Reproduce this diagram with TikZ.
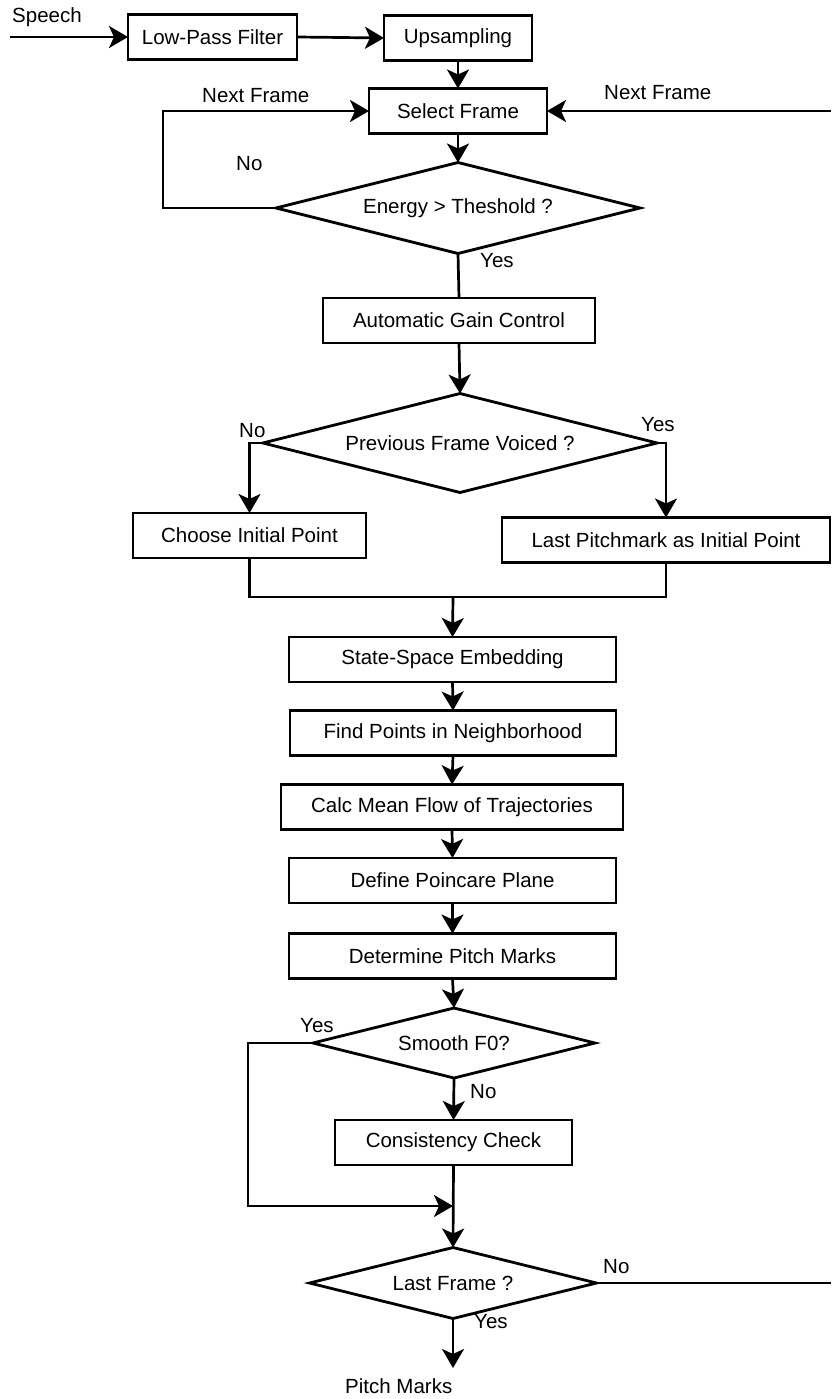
\documentclass[tikz,border=0pt]{standalone}
\usepackage{fontspec}
\setmainfont{Liberation Sans}
\usetikzlibrary{arrows.meta,shapes.geometric}
\begin{document}
\begin{tikzpicture}[x=1pt,y=-1pt,
  txt/.style={font=\fontsize{20.5pt}{24pt}\selectfont},
  stepbox/.style={txt,draw,line width=2.8pt,inner sep=0pt,outer sep=0pt,
    minimum height=45pt,minimum width=#1},
  decision/.style={txt,draw,shape=diamond,aspect=4,line width=2.8pt,
    inner sep=0pt,outer sep=0pt},
  conn/.style={line width=2.7pt},
  arr/.style={conn,-{Stealth[length=19pt,width=22pt,inset=5pt]}},
  lbl/.style={txt,anchor=base west,inner sep=0pt}]
\useasboundingbox (0,0) rectangle (831,1399);

% processing steps
\node[stepbox=169pt] (lpf)  at (212.5,37)   {Low-Pass Filter};
\node[stepbox=148pt] (up)   at (458,38)     {Upsampling};
\node[stepbox=178pt] (sel)  at (458,111)    {Select Frame};
\node[decision,minimum width=364pt,minimum height=91pt] (energy) at (458,208) {Energy > Theshold ?};
\node[stepbox=272pt] (agc)  at (459,320.5)  {Automatic Gain Control};
\node[decision,minimum width=394pt,minimum height=99pt] (pfv) at (460,443) {Previous Frame Voiced ?};
\node[stepbox=233pt] (choose) at (249.5,535.5) {Choose Initial Point};
\node[stepbox=328pt] (last) at (666,540)    {Last Pitchmark as Initial Point};
\node[stepbox=327pt] (ss)   at (452.5,659.5) {State-Space Embedding};
\node[stepbox=326pt] (find) at (453,733)    {Find Points in Neighborhood};
\node[stepbox=342pt] (calc) at (452,807)    {Calc Mean Flow of Trajectories};
\node[stepbox=327pt] (poin) at (452.5,880.5) {Define Poincare Plane};
\node[stepbox=327pt] (det)  at (452.5,956)  {Determine Pitch Marks};
\node[decision,minimum width=282pt,minimum height=70pt] (smooth) at (454,1043) {Smooth F0?};
\node[stepbox=237pt] (cons) at (453.5,1142.5) {Consistency Check};
\node[decision,minimum width=287pt,minimum height=71pt] (lastf) at (453,1283) {Last Frame ?};

% free ends and junctions
\coordinate (in)    at (10,37);
\coordinate (loopL) at (163,208);
\coordinate (edgeT) at (831,111);
\coordinate (merge) at (453,597);
\coordinate (skip)  at (248,1043);
\coordinate (join)  at (453,1206);
\coordinate (edgeB) at (831,1283);
\coordinate (out)   at (453,1368);

% connectors
\draw[arr] (in) -- (lpf.west);
\draw[arr] (lpf.east) -- (up.west);
\draw[arr] (up.south) -- (sel.north);
\draw[arr] (sel.south) -- (energy.north);
\draw[arr] (energy.west) -- (loopL) |- (sel.west);
\draw[arr] (edgeT) -- (sel.east);
\draw[conn] (energy.south) -- (agc.north);
\draw[arr] (agc.south) -- (pfv.north);
\draw[arr] (pfv.west) -| (choose.north);
\draw[arr] (pfv.east) -| (last.north);
\draw[conn] (choose.south) |- (merge) -| (last.south);
\draw[arr] (merge) -- (ss.north);
\draw[arr] (ss.south) -- (find.north);
\draw[arr] (find.south) -- (calc.north);
\draw[arr] (calc.south) -- (poin.north);
\draw[arr] (poin.south) -- (det.north);
\draw[arr] (det.south) -- (smooth.north);
\draw[arr] (smooth.south) -- (cons.north);
\draw[arr] (smooth.west) -- (skip) |- (join);
\draw[arr] (cons.south) -- (lastf.north);
\draw[conn] (lastf.east) -- (edgeB);
\draw[arr] (lastf.south) -- (out);

% labels
\node[lbl] (lSpeech) at (12,23)    {Speech};
\node[lbl] (lNextL)  at (202,103)  {Next Frame};
\node[lbl] (lNextR)  at (604,100)  {Next Frame};
\node[lbl] (lNo1)    at (236,171)  {No};
\node[lbl] (lYes1)   at (480,267)  {Yes};
\node[lbl] (lNo2)    at (239,437)  {No};
\node[lbl] (lYes2)   at (641,431)  {Yes};
\node[lbl] (lYes3)   at (300,1032) {Yes};
\node[lbl] (lNo3)    at (470,1098) {No};
\node[lbl] (lNo4)    at (603,1273) {No};
\node[lbl] (lYes4)   at (474,1328) {Yes};
\node[lbl] (lOut)    at (345,1393) {Pitch Marks};
\end{tikzpicture}
\end{document}
